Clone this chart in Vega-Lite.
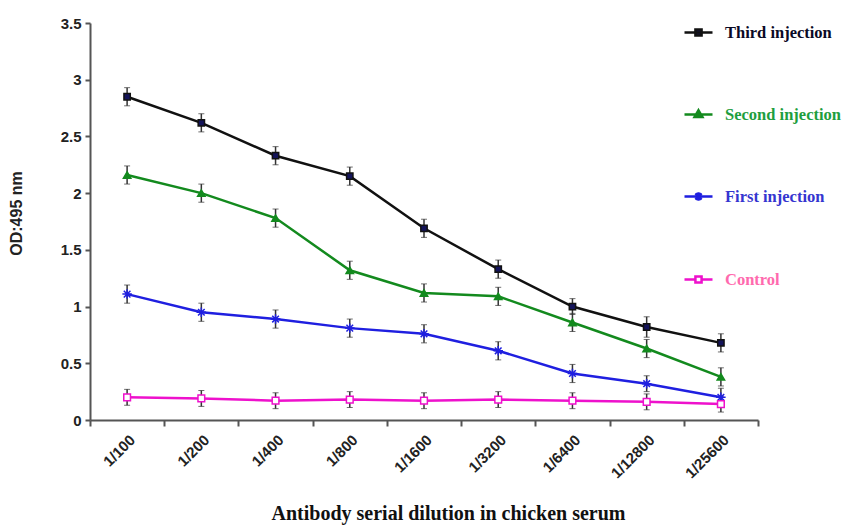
{
  "$schema": "https://vega.github.io/schema/vega-lite/v6.json",
  "autosize": {"type": "none"},
  "padding": {"left": 90, "top": 23, "right": 84, "bottom": 106},
  "width": 668,
  "height": 397,
  "background": "white",
  "config": {"view": {"stroke": null}},
  "data": {"values": [
    {"dil": "1/100", "series": "Third injection", "od": 2.85, "err": 0.08},
    {"dil": "1/200", "series": "Third injection", "od": 2.62, "err": 0.08},
    {"dil": "1/400", "series": "Third injection", "od": 2.33, "err": 0.08},
    {"dil": "1/800", "series": "Third injection", "od": 2.15, "err": 0.08},
    {"dil": "1/1600", "series": "Third injection", "od": 1.69, "err": 0.08},
    {"dil": "1/3200", "series": "Third injection", "od": 1.33, "err": 0.08},
    {"dil": "1/6400", "series": "Third injection", "od": 1.0, "err": 0.07},
    {"dil": "1/12800", "series": "Third injection", "od": 0.82, "err": 0.09},
    {"dil": "1/25600", "series": "Third injection", "od": 0.68, "err": 0.08},
    {"dil": "1/100", "series": "Second injection", "od": 2.16, "err": 0.08},
    {"dil": "1/200", "series": "Second injection", "od": 2.0, "err": 0.08},
    {"dil": "1/400", "series": "Second injection", "od": 1.78, "err": 0.08},
    {"dil": "1/800", "series": "Second injection", "od": 1.32, "err": 0.08},
    {"dil": "1/1600", "series": "Second injection", "od": 1.12, "err": 0.08},
    {"dil": "1/3200", "series": "Second injection", "od": 1.09, "err": 0.08},
    {"dil": "1/6400", "series": "Second injection", "od": 0.86, "err": 0.08},
    {"dil": "1/12800", "series": "Second injection", "od": 0.63, "err": 0.08},
    {"dil": "1/25600", "series": "Second injection", "od": 0.38, "err": 0.08},
    {"dil": "1/100", "series": "First injection", "od": 1.11, "err": 0.08},
    {"dil": "1/200", "series": "First injection", "od": 0.95, "err": 0.08},
    {"dil": "1/400", "series": "First injection", "od": 0.89, "err": 0.08},
    {"dil": "1/800", "series": "First injection", "od": 0.81, "err": 0.08},
    {"dil": "1/1600", "series": "First injection", "od": 0.76, "err": 0.08},
    {"dil": "1/3200", "series": "First injection", "od": 0.61, "err": 0.08},
    {"dil": "1/6400", "series": "First injection", "od": 0.41, "err": 0.08},
    {"dil": "1/12800", "series": "First injection", "od": 0.32, "err": 0.07},
    {"dil": "1/25600", "series": "First injection", "od": 0.2, "err": 0.08},
    {"dil": "1/100", "series": "Control", "od": 0.2, "err": 0.07},
    {"dil": "1/200", "series": "Control", "od": 0.19, "err": 0.07},
    {"dil": "1/400", "series": "Control", "od": 0.17, "err": 0.07},
    {"dil": "1/800", "series": "Control", "od": 0.18, "err": 0.07},
    {"dil": "1/1600", "series": "Control", "od": 0.17, "err": 0.07},
    {"dil": "1/3200", "series": "Control", "od": 0.18, "err": 0.07},
    {"dil": "1/6400", "series": "Control", "od": 0.17, "err": 0.07},
    {"dil": "1/12800", "series": "Control", "od": 0.16, "err": 0.07},
    {"dil": "1/25600", "series": "Control", "od": 0.14, "err": 0.07}
  ]},
  "encoding": {
    "x": {
      "field": "dil", "type": "nominal",
      "sort": ["1/100", "1/200", "1/400", "1/800", "1/1600", "1/3200", "1/6400", "1/12800", "1/25600"],
      "scale": {"paddingInner": 0, "paddingOuter": 0},
      "axis": {
        "title": "Antibody serial dilution in chicken serum",
        "titleFont": "Liberation Serif", "titleFontSize": 20, "titleFontWeight": "bold", "titleColor": "#111",
        "titleX": 358, "titleY": 99, "titleBaseline": "alphabetic",
        "labelAngle": -45, "labelFont": "Liberation Sans", "labelFontSize": 15, "labelFontWeight": "bold", "labelColor": "#222",
        "tickBand": "extent", "tickSize": 6, "tickColor": "#555", "tickWidth": 2,
        "domainColor": "#555", "domainWidth": 2, "labelPadding": 6, "grid": false
      }
    },
    "y": {
      "field": "od", "type": "quantitative",
      "scale": {"domain": [0, 3.5], "nice": false},
      "axis": {
        "title": "OD:495 nm", "values": [0, 0.5, 1, 1.5, 2, 2.5, 3, 3.5],
        "labelExpr": "'' + datum.value",
        "titleFont": "Liberation Sans", "titleFontSize": 16, "titleFontWeight": "bold", "titleColor": "#222",
        "titleX": -74, "titleY": 190, "titleAngle": -90, "titleAlign": "center", "titleBaseline": "middle",
        "labelFont": "Liberation Sans", "labelFontSize": 15, "labelFontWeight": "bold", "labelColor": "#222",
        "tickSize": 5, "tickColor": "#555", "tickWidth": 2, "domainColor": "#555", "domainWidth": 2,
        "labelPadding": 4, "grid": false
      }
    }
  },
  "layer": [
    {
      "mark": {"type": "errorbar", "ticks": {"size": 6, "color": "#333", "strokeWidth": 1.5}, "rule": {"color": "#333", "strokeWidth": 1.5}},
      "encoding": {
        "yError": {"field": "err"}
      }
    },
    {
      "mark": {"type": "line", "strokeWidth": 2.5},
      "encoding": {
        "stroke": {
          "field": "series", "type": "nominal",
          "scale": {"domain": ["Third injection", "Second injection", "First injection", "Control"], "range": ["#111111", "#138a1e", "#1f1fe0", "#ee11cc"]},
          "legend": {
            "title": null, "orient": "none", "legendX": 593, "legendY": -6, "padding": 0,
            "symbolSize": 784, "symbolStrokeWidth": 2.5, "symbolOpacity": 1, "rowPadding": 58, "labelOffset": 11,
            "labelFont": "Liberation Serif", "labelFontSize": 16.5, "labelFontWeight": "bold", "labelLimit": 220,
            "encode": {
              "labels": {"update": {
                "fill": {"signal": "datum.value === 'Third injection' ? '#0a0a25' : datum.value === 'Second injection' ? '#1e9e3e' : datum.value === 'First injection' ? '#3535d0' : '#ff6aae'"}
              }}
            }
          }
        }
      }
    },
    {
      "mark": {"type": "point", "filled": true, "opacity": 0, "strokeWidth": 2.5},
      "encoding": {
        "stroke": {"field": "series", "type": "nominal"},
        "fill": {
          "field": "series", "type": "nominal", "legend": null,
          "scale": {"domain": ["Third injection", "Second injection", "First injection", "Control"], "range": ["#14145a", "#138a1e", "#1f1fe0", "#ffffff"]}
        },
        "shape": {
          "field": "series", "type": "nominal", "legend": null,
          "scale": {"domain": ["Third injection", "Second injection", "First injection", "Control"], "range": ["M-1,0H1M-0.22,-0.22H0.22V0.22H-0.22Z", "M-1,0H1M0,-0.3L0.28,0.18H-0.28Z", "M-1,0H1M0,-0.3V0.3M-0.22,-0.22L0.22,0.22M-0.22,0.22L0.22,-0.22", "M-1,0H-0.22M0.22,0H1M-0.22,-0.22H0.22V0.22H-0.22Z"]}
        }
      }
    },
    {
      "transform": [{"filter": "datum.series === 'Third injection'"}],
      "mark": {"type": "point", "shape": "square", "filled": true, "fill": "#14145a", "stroke": "#111111", "strokeWidth": 1.5, "size": 40, "opacity": 1}
    },
    {
      "transform": [{"filter": "datum.series === 'Second injection'"}],
      "mark": {"type": "point", "shape": "triangle-up", "filled": true, "fill": "#138a1e", "stroke": "#138a1e", "strokeWidth": 1.5, "size": 55, "opacity": 1}
    },
    {
      "transform": [{"filter": "datum.series === 'First injection'"}],
      "mark": {"type": "point", "shape": "M-1,0H1M0,-1V1M-0.7,-0.7L0.7,0.7M-0.7,0.7L0.7,-0.7", "filled": false, "stroke": "#1f1fe0", "strokeWidth": 1.5, "size": 90, "opacity": 1}
    },
    {
      "transform": [{"filter": "datum.series === 'Control'"}],
      "mark": {"type": "point", "shape": "square", "filled": true, "fill": "#ffffff", "stroke": "#ee11cc", "strokeWidth": 1.5, "size": 45, "opacity": 1}
    }
  ]
}
